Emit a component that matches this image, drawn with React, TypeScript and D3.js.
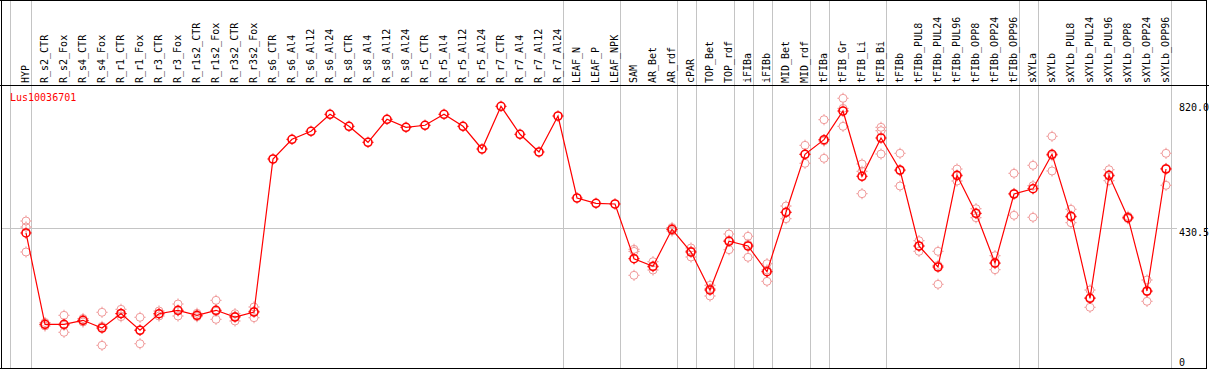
import React from "react";
import * as d3 from "d3";

const categories = [
  "HYP", "R_s2_CTR", "R_s2_Fox", "R_s4_CTR", "R_s4_Fox", "R_r1_CTR", "R_r1_Fox", "R_r3_CTR", "R_r3_Fox",
  "R_r1s2_CTR", "R_r1s2_Fox", "R_r3s2_CTR", "R_r3s2_Fox", "R_s6_CTR", "R_s6_Al4", "R_s6_Al12", "R_s6_Al24",
  "R_s8_CTR", "R_s8_Al4", "R_s8_Al12", "R_s8_Al24", "R_r5_CTR", "R_r5_Al4", "R_r5_Al12", "R_r5_Al24",
  "R_r7_CTR", "R_r7_Al4", "R_r7_Al12", "R_r7_Al24", "LEAF_N", "LEAF_P", "LEAF_NPK", "SAM", "AR_Bet", "AR_rdf",
  "cPAR", "TOP_Bet", "TOP_rdf", "iFIBa", "iFIBb", "MID_Bet", "MID_rdf", "tFIBa", "tFIB_Gr", "tFIB_Li", "tFIB_Bi",
  "tFIBb", "tFIBb_PUL8", "tFIBb_PUL24", "tFIBb_PUL96", "tFIBb_OPP8", "tFIBb_OPP24", "tFIBb_OPP96",
  "sXYLa", "sXYLb", "sXYLb_PUL8", "sXYLb_PUL24", "sXYLb_PUL96", "sXYLb_OPP8", "sXYLb_OPP24", "sXYLb_OPP96",
];

const meanValues = [
  416, 131.5, 131.5, 143.9, 119.9, 165.1, 112.8, 164.5, 175.1, 159.5, 175.1, 154.2, 169.8,
  646.5, 707.8, 732.8, 785.7, 748.3, 698.5, 770.1, 745.2, 751.5, 785.7, 748.3, 677.6,
  810.6, 723.4, 668.3, 780.4, 525, 508.4, 506.3, 335.8, 312.2, 427.4,
  356.7, 238.3, 390.1, 375.4, 295.3, 480.4, 661.1, 706.6, 796, 592.6, 711.9,
  612.2, 375.4, 310, 595.7, 477.3, 322.5, 537.4,
  553.9, 661.1, 467.9, 212.5, 595.7, 463.6, 235.2, 615.3,
];

const replicateValues: number[][] = [
  [453.3, 434.6, 356.7],
  [137.1, 130.9, 126.2],
  [159.5, 106.6, 128.4],
  [149.5, 143.3, 138.6],
  [168.9, 66, 124.9],
  [178.2, 155.2, 163.6],
  [153.3, 71, 113.7],
  [172.9, 163.6, 157.3],
  [194.7, 157.3, 172.9],
  [165.7, 155.2, 157.3],
  [206.2, 147, 172],
  [164.5, 141.8, 156.4],
  [185.4, 152, 172],
  [], [], [], [], [], [], [], [], [], [], [], [], [], [], [], [],
  [], [], [],
  [365.1, 358.6, 284.1],
  [326.5, 300.6, 310],
  [433, 426.8, 422.1],
  [369.2, 341.1, 359.8],
  [253, 219.6, 242.4],
  [412.8, 363.9, 393.2],
  [405.6, 340.2, 380.4],
  [320.3, 265.4, 300.6],
  [500, 460.5, 480.4],
  [689.1, 633.1, 661.1],
  [768.9, 648.6, 702.5],
  [835.6, 748.3, 804.1],
  [630.9, 538.4, 608.1],
  [745.2, 734.6, 662],
  [664.2, 562.3, 610],
  [391.9, 358.9, 375.4],
  [358.9, 256.1, 315],
  [615.3, 577.9, 593.5],
  [491.6, 463.6, 476.4],
  [345.2, 301.6, 320.6],
  [601.9, 471.1, 539.3],
  [626.8, 464.8, 563.3],
  [717.2, 609.1, 657.1],
  [489.8, 448, 465.8],
  [238.3, 184.4, 214.7],
  [613.1, 578.9, 593.5],
  [467.9, 460.5, 462.7],
  [269.5, 203.1, 233],
  [664.2, 564.5, 617.2],
];

// index of last category in each group (separator drawn after it)
const groupEnds = [0, 28, 31, 34, 35, 37, 38, 39, 41, 42, 45, 52, 53, 60];
const yTickValues = [820.0, 430.5, 0];
const yTickLabels = ["820.0", "430.5", "0"];
const gridValues = [430.5];
const title = "Lus10036701";

const W = 1209;
const H = 370;
const FONT = "'DejaVu Sans Mono', 'Liberation Mono', monospace";
const RED = "#ff0000";
const PINK = "#f09a9a";
const GRAY = "#c4c4c4";

function Marker({ x, y, color, sw }: { x: number; y: number; color: string; sw: number }) {
  const r = 4;
  const t = 1.6;
  const d = `M${x},${y - r} v${-t} M${x},${y + r} v${t} M${x - r},${y} h${-t} M${x + r},${y} h${t}`;
  return (
    <g>
      <circle cx={x} cy={y} r={r} fill="none" stroke={color} strokeWidth={sw} />
      <path d={d} stroke={color} strokeWidth={1} fill="none" />
    </g>
  );
}

export default function App() {
  const x = d3.scalePoint<string>().domain(categories).range([26, 1166]).padding(0);
  const y = d3.scaleLinear().domain([0, 820]).range([366.5, 103.3]);

  const line = d3
    .line<number>()
    .x((_, i) => x(categories[i]) as number)
    .y((v) => y(v));

  const sepXs = [10.5, ...groupEnds.map((g) => Math.round((x(categories[g]) as number) + 4.5) + 0.5)];

  return (
    <div style={{ position: "absolute", left: 0, top: 0 }}>
      <svg width={W} height={H} style={{ display: "block", background: "#fff" }}>
        <rect x={0} y={0} width={W} height={H} fill="#fff" />
        {/* group separators */}
        {sepXs.map((sx, i) => (
          <line key={"s" + i} x1={sx} x2={sx} y1={0} y2={368} stroke={GRAY} strokeWidth={1} shapeRendering="crispEdges" />
        ))}
        {/* horizontal grid */}
        {gridValues.map((g, i) => (
          <line key={"g" + i} x1={1} x2={1177} y1={Math.round(y(g)) + 0.5} y2={Math.round(y(g)) + 0.5} stroke={GRAY} strokeWidth={1} shapeRendering="crispEdges" />
        ))}
        {/* header labels */}
        {categories.map((c) => {
          const px = (x(c) as number) + 2.5;
          return (
            <text key={c} transform={`translate(${px},83) rotate(-90)`} fontFamily={FONT} fontSize={10} fill="#000">
              {c}
            </text>
          );
        })}
        {/* replicates */}
        {replicateValues.map((reps, i) =>
          reps.map((v, j) => <Marker key={`r${i}-${j}`} x={x(categories[i]) as number} y={y(v)} color={PINK} sw={1} />)
        )}
        {/* mean line */}
        <path d={line(meanValues) || ""} fill="none" stroke={RED} strokeWidth={1.2} />
        {meanValues.map((v, i) => (
          <Marker key={"m" + i} x={x(categories[i]) as number} y={y(v)} color={RED} sw={1.6} />
        ))}
        {/* title */}
        <text x={10} y={101} fontFamily={FONT} fontSize={10} fill={RED}>
          {title}
        </text>
        {/* y labels */}
        {yTickValues.map((v, i) => (
          <text key={"y" + i} x={1179} y={v === 0 ? y(v) - 1 : y(v) + 7.5} fontFamily={FONT} fontSize={10} fill="#000">
            {yTickLabels[i]}
          </text>
        ))}
        {/* frame */}
        <g stroke="#000" strokeWidth={1} shapeRendering="crispEdges" fill="none">
          <line x1={0} x2={1207} y1={0.5} y2={0.5} />
          <line x1={0} x2={W} y1={85.5} y2={85.5} />
          <line x1={1.5} x2={1.5} y1={0} y2={369} />
          <line x1={1206.5} x2={1206.5} y1={0} y2={369} />
          <line x1={0} x2={1207} y1={368.5} y2={368.5} />
        </g>
      </svg>
    </div>
  );
}
